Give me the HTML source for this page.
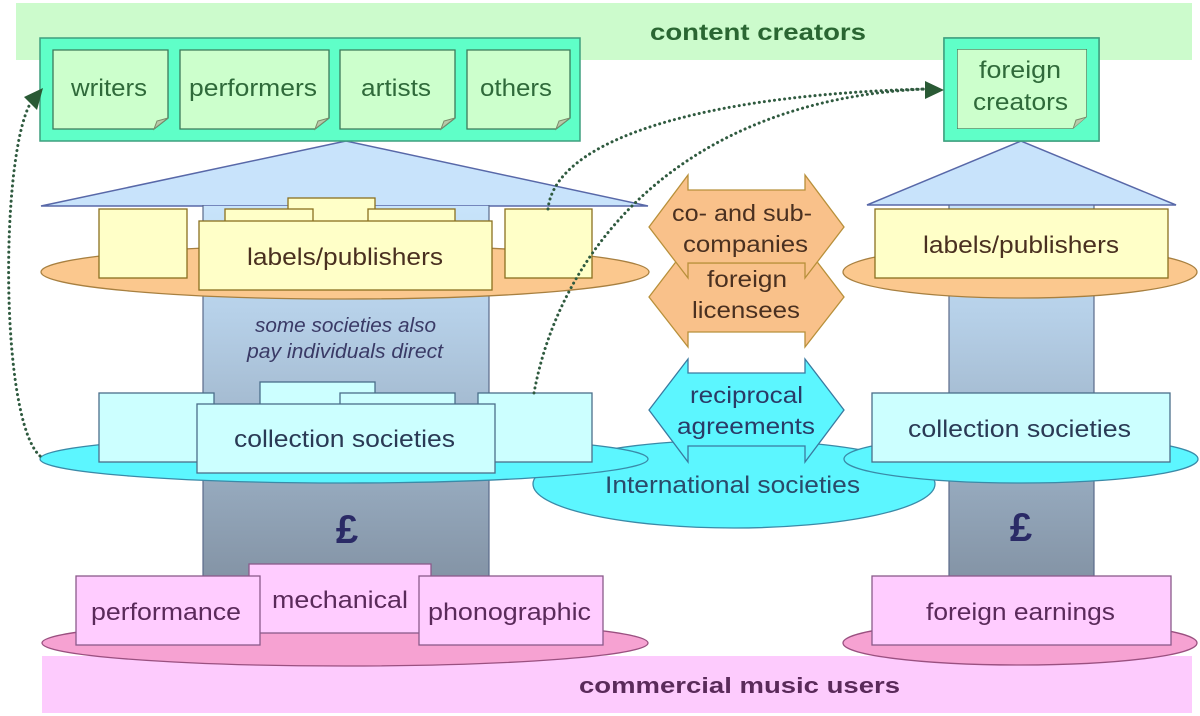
<!DOCTYPE html>
<html><head><meta charset="utf-8">
<style>
html,body{margin:0;padding:0;background:#fff;}
svg{display:block;}
text{font-family:"Liberation Sans",Arial,sans-serif;}
</style></head><body>
<svg width="1200" height="716" viewBox="0 0 1200 716" xmlns="http://www.w3.org/2000/svg">
<defs>
<linearGradient id="pg" gradientUnits="userSpaceOnUse" x1="0" y1="205" x2="0" y2="576">
<stop offset="0" stop-color="#c8e4fb"/>
<stop offset="0.3" stop-color="#b6d0e8"/>
<stop offset="1" stop-color="#8494a6"/>
</linearGradient>
</defs>
<rect x="0" y="0" width="1200" height="716" fill="#fff"/>

<!-- bands -->
<rect x="16" y="3" width="1176" height="57" fill="#ccfbcc"/>
<rect x="42" y="656" width="1150" height="57" fill="#fdcbfd"/>

<!-- roofs -->
<polygon points="346,141 41,206 648,206" fill="#c8e3fb" stroke="#5868a8" stroke-width="1.5"/>
<polygon points="1021,141 867,205 1176,205" fill="#c8e3fb" stroke="#5868a8" stroke-width="1.5"/>

<!-- pillars -->
<rect x="203" y="206" width="286" height="370" fill="url(#pg)"/>
<line x1="203" y1="205" x2="203" y2="576" stroke="#5a6a8a" stroke-width="1.2"/>
<line x1="489" y1="205" x2="489" y2="576" stroke="#5a6a8a" stroke-width="1.2"/>
<rect x="949" y="206" width="145" height="370" fill="url(#pg)"/>
<line x1="949" y1="205" x2="949" y2="576" stroke="#5a6a8a" stroke-width="1.2"/>
<line x1="1094" y1="205" x2="1094" y2="576" stroke="#5a6a8a" stroke-width="1.2"/>

<!-- content creators box -->
<rect x="40" y="38" width="540" height="103" fill="#5fffc8" stroke="#3f9f7f" stroke-width="1.5"/>
<g fill="#ccffcc" stroke="#3c7a5a" stroke-width="1.3">
<path d="M53,50 H168 V118 L154,129 H53 Z"/>
<path d="M180,50 H329 V118 L315,129 H180 Z"/>
<path d="M340,50 H455 V118 L441,129 H340 Z"/>
<path d="M467,50 H570 V118 L556,129 H467 Z"/>
<path d="M957,49 H1087 V117 L1073,129 H957 Z"/>
</g>
<g fill="#b9c9a9" stroke="#7a8a6a" stroke-width="1">
<path d="M168,118 L154,129 L157,121 Z"/>
<path d="M329,118 L315,129 L318,121 Z"/>
<path d="M455,118 L441,129 L444,121 Z"/>
<path d="M570,118 L556,129 L559,121 Z"/>
<path d="M1087,117 L1073,129 L1076,120 Z"/>
</g>
<rect x="944" y="38" width="155" height="103" fill="none" stroke="#3f9f7f" stroke-width="1.5"/>
<path d="M944,38 H1099 V141 H944 Z M957,49 V129 H1073 L1087,117 V49 Z" fill="#5fffc8" fill-rule="evenodd"/>
<rect x="944" y="38" width="155" height="103" fill="none" stroke="#3f9f7f" stroke-width="1.5"/>

<!-- orange ellipses + yellow boxes -->
<ellipse cx="345" cy="272" rx="304" ry="27" fill="#fbc88e" stroke="#a88040" stroke-width="1.3"/>
<ellipse cx="1020" cy="272" rx="177" ry="26" fill="#fbc88e" stroke="#a88040" stroke-width="1.3"/>
<g fill="#ffffc8" stroke="#8a7020" stroke-width="1.3">
<rect x="288" y="198" width="87" height="30"/>
<rect x="225" y="209" width="88" height="20"/>
<rect x="368" y="209" width="87" height="20"/>
<rect x="99" y="209" width="88" height="69"/>
<rect x="505" y="209" width="87" height="69"/>
<rect x="199" y="221" width="293" height="69"/>
<rect x="875" y="209" width="293" height="69"/>
</g>

<!-- International & cyan ellipses -->
<ellipse cx="734" cy="484" rx="201" ry="44" fill="#5cf6ff" stroke="#3a8aa8" stroke-width="1.3"/>
<ellipse cx="344" cy="459" rx="304" ry="24" fill="#5cf6ff" stroke="#3a8aa8" stroke-width="1.3"/>
<ellipse cx="1021" cy="459" rx="177" ry="24" fill="#5cf6ff" stroke="#3a8aa8" stroke-width="1.3"/>
<g fill="#ccffff" stroke="#4a6e8a" stroke-width="1.3">
<rect x="260" y="382" width="115" height="30"/>
<rect x="340" y="393" width="115" height="20"/>
<rect x="99" y="393" width="115" height="69"/>
<rect x="478" y="393" width="114" height="69"/>
<rect x="197" y="404" width="298" height="69"/>
<rect x="872" y="393" width="298" height="69"/>
</g>

<!-- pink -->
<ellipse cx="345" cy="643" rx="303" ry="23" fill="#f6a2d2" stroke="#9a5080" stroke-width="1.3"/>
<ellipse cx="1020" cy="643" rx="177" ry="22" fill="#f6a2d2" stroke="#9a5080" stroke-width="1.3"/>
<g fill="#ffccff" stroke="#8a5a8a" stroke-width="1.3">
<rect x="249" y="564" width="182" height="69"/>
<rect x="76" y="576" width="184" height="69"/>
<rect x="419" y="576" width="184" height="69"/>
<rect x="872" y="576" width="299" height="69"/>
</g>

<!-- central arrows -->
<polygon points="649,297 688,246 688,263 805,263 805,246 844,297 805,347 805,332 688,332 688,347" fill="#f9c18a" stroke="#b8903a" stroke-width="1.3"/>
<polygon points="649,227 688,175 688,190 805,190 805,175 844,227 805,278 805,263 688,263 688,278" fill="#f9c18a" stroke="#b8903a" stroke-width="1.3"/>
<polygon points="649,410 688,359 688,373 805,373 805,359 844,410 805,462 805,446 688,446 688,462" fill="#5cf6ff" stroke="#3a7aa0" stroke-width="1.3"/>

<!-- dotted connectors -->
<g fill="none" stroke="#2f5a3f" stroke-width="3" stroke-linecap="round" stroke-dasharray="0.1 5">
<path d="M40,456 C0,420 0,160 30,104"/>
<path d="M548,209 C555,140 700,95 925,89"/>
<path d="M534,393 C560,250 680,100 925,89"/>
</g>
<polygon points="43,88 24,97 37,110" fill="#2a5a35"/>
<polygon points="944,90 925,81 925,99" fill="#2a5a35"/>

<!-- texts -->
<text x="650" y="40" font-size="23" font-weight="bold" fill="#2a6632" textLength="216" lengthAdjust="spacingAndGlyphs">content creators</text>
<g font-size="24" fill="#2f6a3a">
<text x="71" y="96" textLength="76" lengthAdjust="spacingAndGlyphs">writers</text>
<text x="189" y="96" textLength="128" lengthAdjust="spacingAndGlyphs">performers</text>
<text x="361" y="96" textLength="70" lengthAdjust="spacingAndGlyphs">artists</text>
<text x="480" y="96" textLength="72" lengthAdjust="spacingAndGlyphs">others</text>
<text x="979" y="78" textLength="82" lengthAdjust="spacingAndGlyphs">foreign</text>
<text x="973" y="110" textLength="95" lengthAdjust="spacingAndGlyphs">creators</text>
</g>
<g font-size="24" fill="#4a3020">
<text x="247" y="265" textLength="196" lengthAdjust="spacingAndGlyphs">labels/publishers</text>
<text x="923" y="253" textLength="196" lengthAdjust="spacingAndGlyphs">labels/publishers</text>
</g>
<g font-size="23" fill="#4a3020">
<text x="672" y="221" textLength="140" lengthAdjust="spacingAndGlyphs">co- and sub-</text>
<text x="683" y="252" textLength="125" lengthAdjust="spacingAndGlyphs">companies</text>
<text x="707" y="287" textLength="80" lengthAdjust="spacingAndGlyphs">foreign</text>
<text x="692" y="318" textLength="108" lengthAdjust="spacingAndGlyphs">licensees</text>
</g>
<g font-size="20" font-style="italic" fill="#3a3a66">
<text x="255" y="332" textLength="181" lengthAdjust="spacingAndGlyphs">some societies also</text>
<text x="247" y="358" textLength="196" lengthAdjust="spacingAndGlyphs">pay individuals direct</text>
</g>
<g font-size="24" fill="#2a3a55">
<text x="234" y="447" textLength="221" lengthAdjust="spacingAndGlyphs">collection societies</text>
<text x="908" y="437" textLength="223" lengthAdjust="spacingAndGlyphs">collection societies</text>
<text x="605" y="493" textLength="255" lengthAdjust="spacingAndGlyphs" fill="#2a4a6a">International societies</text>
</g>
<g font-size="23" fill="#2a3a66">
<text x="690" y="403" textLength="113" lengthAdjust="spacingAndGlyphs">reciprocal</text>
<text x="677" y="434" textLength="138" lengthAdjust="spacingAndGlyphs">agreements</text>
</g>
<g font-size="40" font-weight="bold" fill="#2a2a66" text-anchor="middle">
<text x="347" y="543">£</text>
<text x="1021" y="541">£</text>
</g>
<g font-size="24" fill="#5a2a5a">
<text x="91" y="620" textLength="150" lengthAdjust="spacingAndGlyphs">performance</text>
<text x="272" y="608" textLength="136" lengthAdjust="spacingAndGlyphs">mechanical</text>
<text x="428" y="620" textLength="163" lengthAdjust="spacingAndGlyphs">phonographic</text>
<text x="926" y="620" textLength="189" lengthAdjust="spacingAndGlyphs">foreign earnings</text>
</g>
<text x="579" y="693" font-size="22" font-weight="bold" fill="#5a2a5a" textLength="321" lengthAdjust="spacingAndGlyphs">commercial music users</text>
</svg>
</body></html>
